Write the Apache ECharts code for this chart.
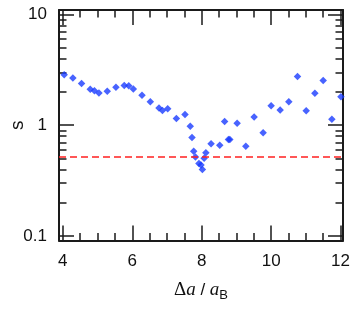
<!DOCTYPE html>
<html><head><meta charset="utf-8">
<script src="https://cdn.jsdelivr.net/npm/echarts@6/dist/echarts.min.js"></script>
<style>html,body{margin:0;padding:0;background:#fff}#c{width:354px;height:313px}</style>
</head><body><div id="c"></div>
<script>
// Data
const xVals = [4.04,4.29,4.54,4.79,4.91,5.04,5.28,5.53,5.77,5.90,6.03,6.28,6.52,6.77,6.87,7.02,7.27,7.52,7.67,7.72,7.77,7.82,7.92,7.98,8.02,8.07,8.12,8.27,8.52,8.66,8.77,8.81,9.02,9.27,9.51,9.77,10.0,10.26,10.51,10.76,11.01,11.26,11.5,11.75,12.01];
const sVals = [2.86,2.68,2.39,2.12,2.05,1.96,2.03,2.21,2.29,2.27,2.13,1.87,1.63,1.43,1.36,1.41,1.15,1.25,0.98,0.776,0.583,0.515,0.451,0.436,0.398,0.504,0.563,0.682,0.658,1.08,0.744,0.744,1.04,0.647,1.19,0.857,1.50,1.37,1.63,2.76,1.35,1.95,2.54,1.13,1.81];
const refLine = 0.52;
const xMajorTicks = [4,6,8,10,12];
const xMinorTicks = [4.5,5,5.5,6.5,7,7.5,8.5,9,9.5,10.5,11,11.5];
const yMajorTicks = [0.1,1,10];
const yTickLabels = ['0.1','1','10'];
const yMinorTicks = [0.2,0.3,0.4,0.5,0.6,0.7,0.8,0.9,2,3,4,5,6,7,8,9];
const xRange = [3.89, 12.07];
const yRange = [0.0908, 11.01];

const L = v => Math.log10(v);
const ink = '#1a1a1a';
const sans = 'Liberation Sans';
const lyMin = L(yRange[0]), lyMax = L(yRange[1]);

function xAx(pos, ticks, len, opts) {
  return Object.assign({
    type:'value', position: pos, min:xRange[0], max:xRange[1],
    axisLine:{show:false, onZero:false},
    axisTick:{show:true, inside:true, length:len, customValues:ticks, lineStyle:{color:ink,width:1.5}},
    axisLabel:{show:false}, splitLine:{show:false}
  }, opts||{});
}
function yAx(pos, ticks, len, opts) {
  return Object.assign({
    type:'value', position: pos, min:lyMin, max:lyMax,
    axisLine:{show:false, onZero:false},
    axisTick:{show:true, inside:true, length:len, customValues:ticks.map(L), lineStyle:{color:ink,width:1.5}},
    axisLabel:{show:false}, splitLine:{show:false}
  }, opts||{});
}
const frameLine = {show:true, onZero:false, lineStyle:{color:ink, width:2}};

const chart = echarts.init(document.getElementById('c'), null, {renderer:'canvas'});
chart.setOption({
  animation:false,
  grid:{left:59, right:11, top:10, bottom:72.5, containLabel:false, outerBoundsMode:'none'},
  xAxis:[
    xAx('bottom', xMajorTicks, 15, {
      axisLine: frameLine,
      axisLabel:{show:true, customValues:xMajorTicks, margin:12, color:'#111', fontFamily:sans, fontSize:17},
      name:'{g|Δ}{i|a}{n| / }{i|a}{s|B}', nameLocation:'middle', nameGap:38,
      nameTextStyle:{color:'#111', rich:{
        g:{fontFamily:'Liberation Serif', fontSize:19, color:'#111'},
        i:{fontFamily:'Liberation Serif', fontStyle:'italic', fontSize:19, color:'#111'},
        n:{fontFamily:sans, fontSize:17, color:'#111'},
        s:{fontFamily:sans, fontSize:13, color:'#111', padding:[10,0,0,0]}
      }}
    }),
    xAx('bottom', xMinorTicks, 7.5),
    xAx('top', xMajorTicks, 15, {axisLine: frameLine}),
    xAx('top', xMinorTicks, 7.5)
  ],
  yAxis:[
    {type:'log', min:yRange[0], max:yRange[1], show:false},
    yAx('left', yMajorTicks, 15, {
      axisLine: frameLine,
      axisLabel:{show:true, customValues:yMajorTicks.map(L), margin:12, color:'#111', fontFamily:sans, fontSize:17,
        formatter: v => yTickLabels[yMajorTicks.findIndex(t => Math.abs(L(t)-v) < 1e-6)]},
      name:'s', nameLocation:'middle', nameGap:32, nameRotate:90, nameMoveOverlap:false,
      nameTextStyle:{color:'#111', fontFamily:sans, fontSize:19}
    }),
    yAx('left', yMinorTicks, 7.5),
    yAx('right', yMajorTicks, 15, {axisLine: frameLine}),
    yAx('right', yMinorTicks, 7.5)
  ],
  series:[{
    type:'scatter', xAxisIndex:0, yAxisIndex:0,
    data: xVals.map((x,i) => [x, sVals[i]]),
    symbol:'diamond', symbolSize:7.5,
    itemStyle:{color:'#1a3cff'},
    markLine:{
      silent:true, symbol:['none','none'], label:{show:false},
      lineStyle:{color:'#ff2020', width:1.5, type:[7,4]},
      data:[{yAxis:refLine}]
    }
  }]
});
</script></body></html>
